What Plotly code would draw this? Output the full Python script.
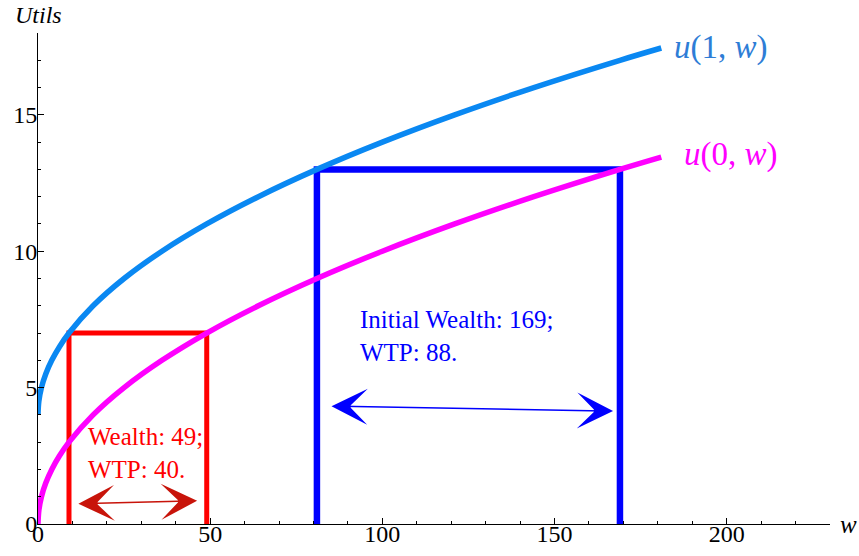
import plotly.graph_objects as go

# ---- data ----
w_vals = [0, 0.25, 1, 2.25, 4, 6.25, 9, 16, 25, 36, 49, 64, 81, 100, 121, 144, 169, 181]
u0_vals = [0, 0.5, 1, 1.5, 2, 2.5, 3, 4, 5, 6, 7, 8, 9, 10, 11, 12, 13, 13.45]
u1_vals = [4, 4.5, 5, 5.5, 6, 6.5, 7, 8, 9, 10, 11, 12, 13, 14, 15, 16, 17, 17.45]

red_rect_w = [9, 9, 49, 49]
red_rect_u = [0, 7, 7, 0]
blue_rect_w = [81, 81, 169, 169]
blue_rect_u = [0, 13, 13, 0]

red_arrow_w = [11.3, 46.2]
red_arrow_u = [0.74, 0.85]
blue_arrow_w = [84.8, 167.0]
blue_arrow_u = [4.32, 4.14]

x_range = [0, 230]
y_range = [0, 18]

FONT = "Liberation Serif"

fig = go.Figure()

fig.add_trace(go.Scatter(x=red_rect_w, y=red_rect_u, mode="lines",
                         line=dict(color="#ff0000", width=5), hoverinfo="skip"))
fig.add_trace(go.Scatter(x=blue_rect_w, y=blue_rect_u, mode="lines",
                         line=dict(color="#0000ff", width=6.5), hoverinfo="skip"))
fig.add_trace(go.Scatter(x=w_vals, y=u1_vals, mode="lines",
                         line=dict(color="#0a88f2", width=5.5, shape="spline"), hoverinfo="skip"))
fig.add_trace(go.Scatter(x=w_vals, y=u0_vals, mode="lines",
                         line=dict(color="#ff00ff", width=5.5, shape="spline"), hoverinfo="skip"))

annotations = []
# arrows
annotations.append(dict(x=red_arrow_w[1], y=red_arrow_u[1], ax=red_arrow_w[0], ay=red_arrow_u[0],
                        xref="x", yref="y", axref="x", ayref="y", text="", showarrow=True,
                        arrowside="end+start", arrowhead=3, startarrowhead=3,
                        arrowsize=4.0, startarrowsize=4.0, arrowwidth=1.5, arrowcolor="#c8140a"))
annotations.append(dict(x=blue_arrow_w[1], y=blue_arrow_u[1], ax=blue_arrow_w[0], ay=blue_arrow_u[0],
                        xref="x", yref="y", axref="x", ayref="y", text="", showarrow=True,
                        arrowside="end+start", arrowhead=3, startarrowhead=3,
                        arrowsize=4.0, startarrowsize=4.0, arrowwidth=1.5, arrowcolor="#0000ff"))
# texts
annotations.append(dict(x=14.0, y=2.62, xref="x", yref="y", xanchor="left", yanchor="middle",
                        text="Wealth: 49;<br>WTP: 40.", showarrow=False, align="left",
                        font=dict(family=FONT, size=25, color="#ff0000")))
annotations.append(dict(x=93.0, y=6.9, xref="x", yref="y", xanchor="left", yanchor="middle",
                        text="Initial Wealth: 169;<br>WTP: 88.", showarrow=False, align="left",
                        font=dict(family=FONT, size=25, color="#0000ff")))
annotations.append(dict(x=184.1, y=17.47, xref="x", yref="y", xanchor="left", yanchor="middle",
                        text="<i>u</i>(1, <i>w</i>)", showarrow=False,
                        font=dict(family=FONT, size=33, color="#2e7dd6")))
annotations.append(dict(x=187.0, y=13.56, xref="x", yref="y", xanchor="left", yanchor="middle",
                        text="<i>u</i>(0, <i>w</i>)", showarrow=False,
                        font=dict(family=FONT, size=33, color="#ff00ff")))
annotations.append(dict(x=0.0, y=1.037, xref="paper", yref="paper", xanchor="center", yanchor="middle",
                        text="<i>Utils</i>", showarrow=False,
                        font=dict(family=FONT, size=24, color="black")))
annotations.append(dict(x=1.023, y=-0.002, xref="paper", yref="paper", xanchor="center", yanchor="middle",
                        text="<i>w</i>", showarrow=False,
                        font=dict(family=FONT, size=25, color="black")))

fig.update_layout(
    width=859, height=556, autosize=False,
    margin=dict(l=38, r=29, t=33, b=32, autoexpand=False),
    paper_bgcolor="white", plot_bgcolor="white",
    showlegend=False,
    annotations=annotations,
    font=dict(family=FONT, size=24, color="black"),
)
fig.update_xaxes(range=x_range, showgrid=False, zeroline=False, showline=True, automargin=False,
                 linecolor="black", linewidth=1, ticks="inside", ticklen=6, tickwidth=1,
                 tickcolor="black", tick0=0, dtick=50, ticklabelstandoff=-12,
                 minor=dict(dtick=10, ticks="inside", ticklen=3, tickcolor="black", showgrid=False),
                 tickfont=dict(family=FONT, size=24, color="black"))
fig.update_yaxes(range=y_range, showgrid=False, zeroline=False, showline=True, automargin=False,
                 linecolor="black", linewidth=1, ticks="inside", ticklen=6, tickwidth=1,
                 tickcolor="black", tick0=0, dtick=5, ticklabelstandoff=-5,
                 minor=dict(dtick=1, ticks="inside", ticklen=3, tickcolor="black", showgrid=False),
                 tickfont=dict(family=FONT, size=24, color="black"))

fig.write_html("out.html", config={"displayModeBar": False},
               post_script="document.body.style.margin='0';")
